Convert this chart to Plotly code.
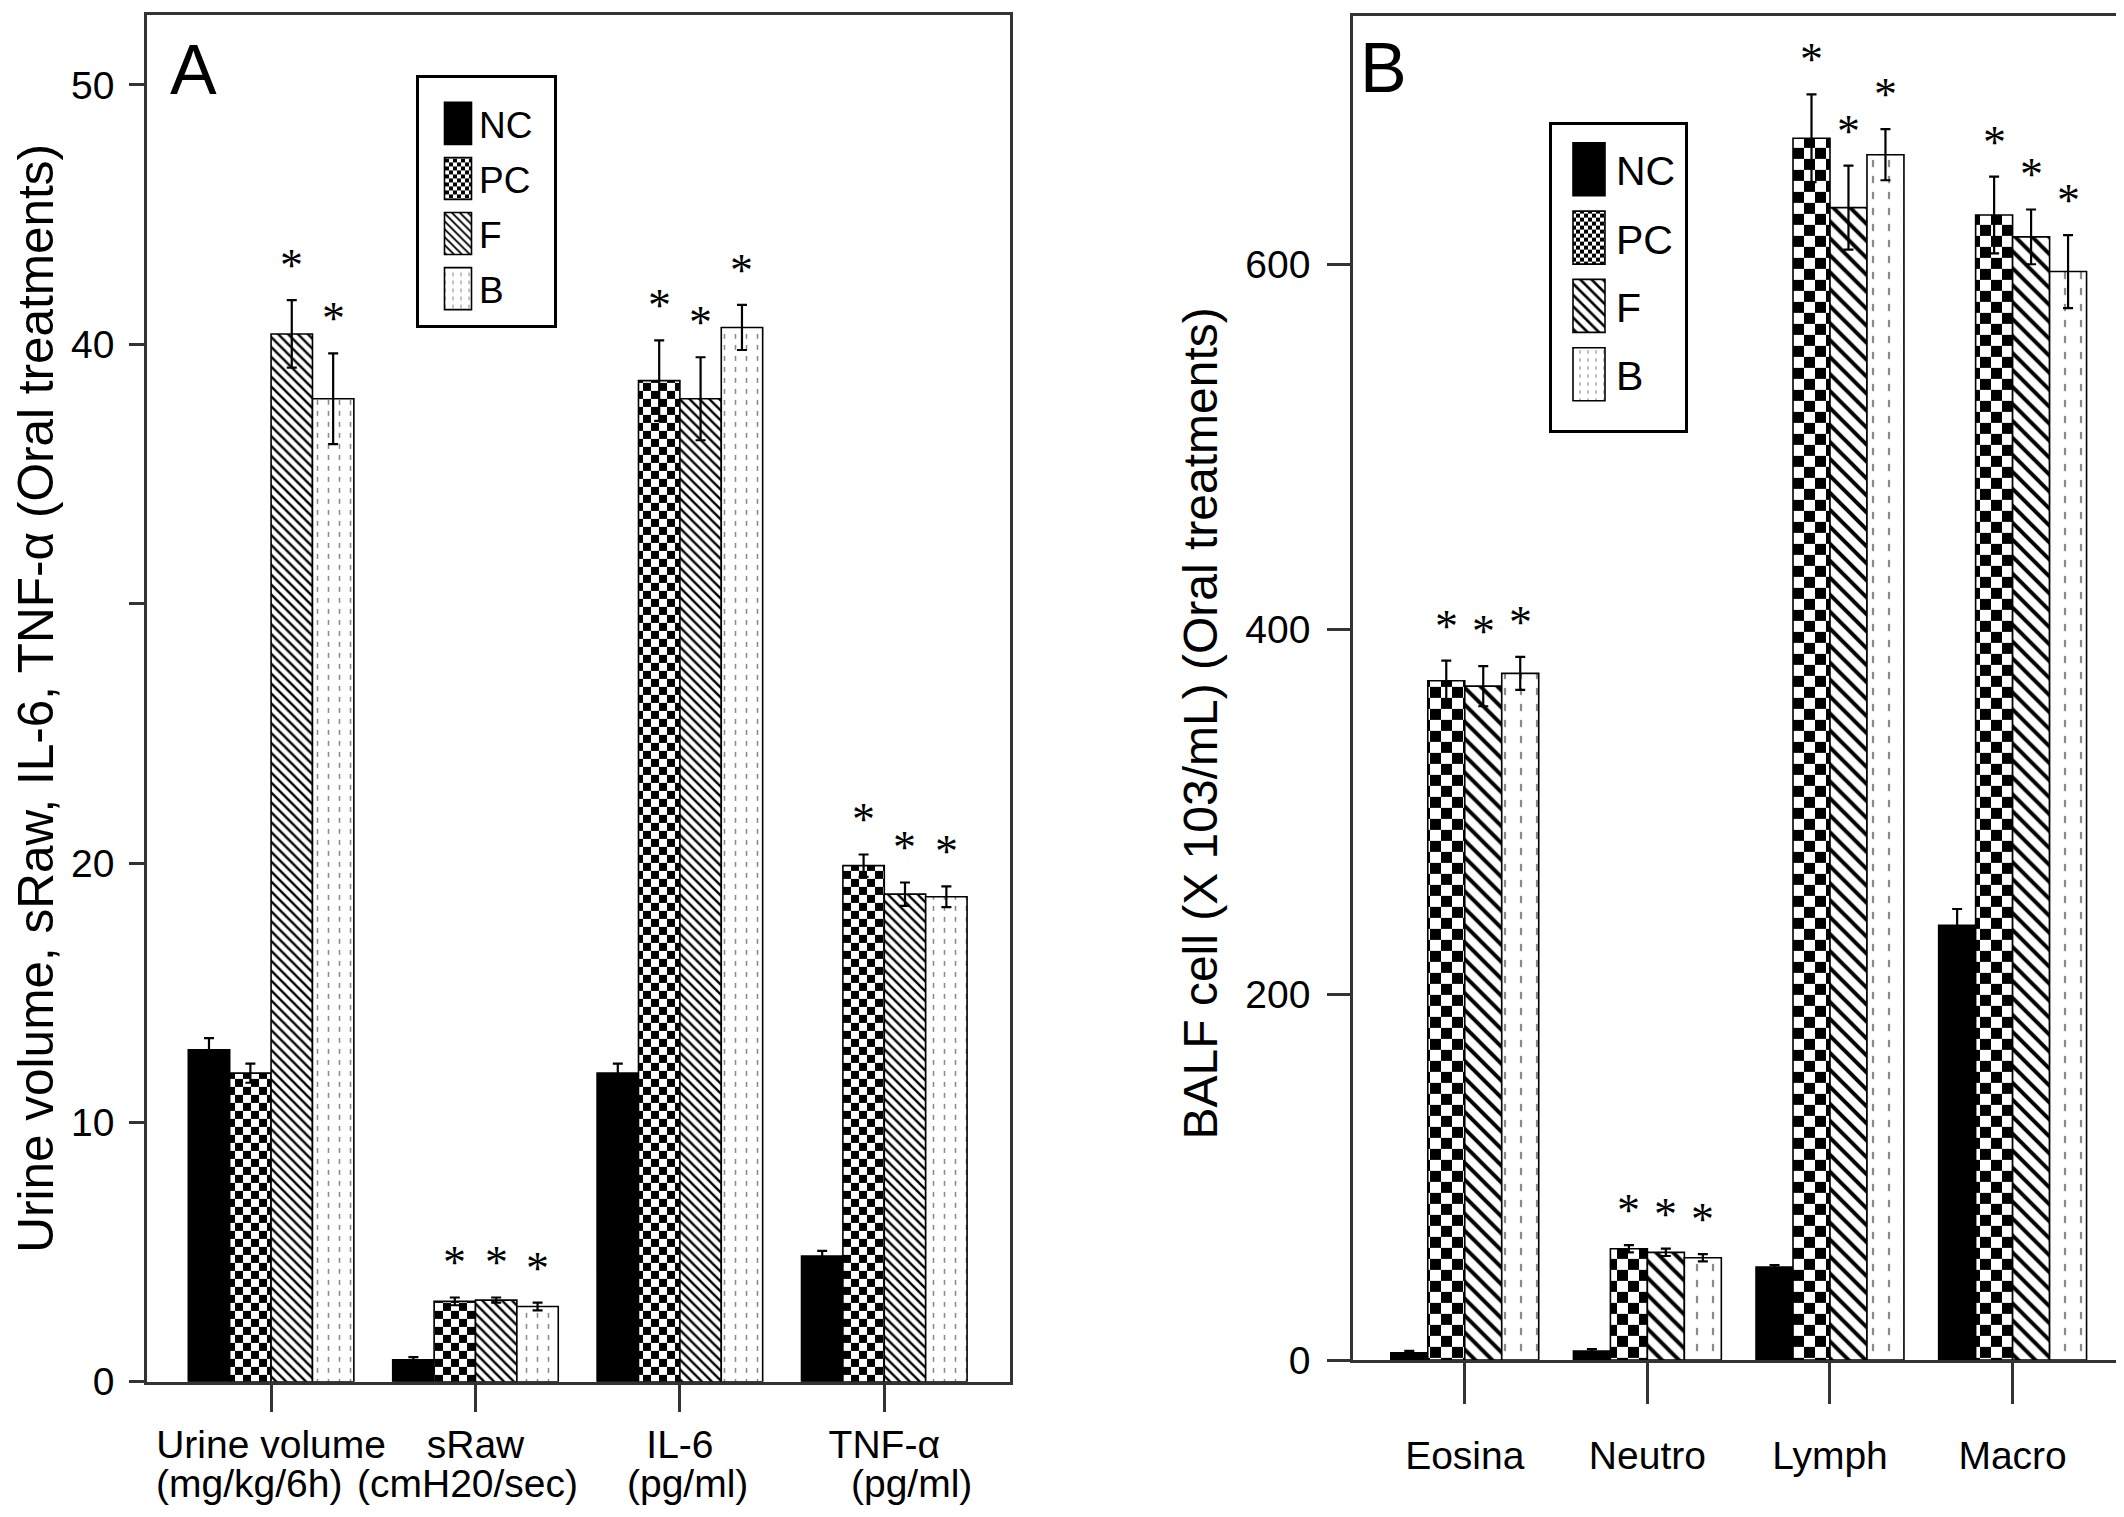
import plotly.graph_objects as go

# ---------------- data ----------------
groups = ["NC", "PC", "F", "B"]

# Panel A
a_cats = ["Urine volume", "sRaw", "IL-6", "TNF-α"]
a_units = ["(mg/kg/6h)", "(cmH20/sec)", "(pg/ml)", "(pg/ml)"]
a_nc = [12.8, 0.85, 11.9, 4.85]
a_pc = [11.9, 3.1, 38.6, 19.9]
a_f = [40.4, 3.15, 37.9, 18.8]
a_b = [37.9, 2.9, 40.65, 18.7]
a_nc_err = [0.45, 0.1, 0.37, 0.2]
a_pc_err = [0.37, 0.15, 1.55, 0.43]
a_f_err = [1.3, 0.1, 1.6, 0.45]
a_b_err = [1.75, 0.15, 0.87, 0.4]
a_nc_sig = [0, 0, 0, 0]
a_pc_sig = [0, 1, 1, 1]
a_f_sig = [1, 1, 1, 1]
a_b_sig = [1, 1, 1, 1]
a_tickvals = [0, 10, 20, 30, 40, 50]
a_ticktext = ["0", "10", "20", "", "40", "50"]
a_ytitle = "Urine volume, sRaw, IL-6, TNF-α (Oral treatments)"

# Panel B
b_cats = ["Eosina", "Neutro", "Lymph", "Macro"]
b_nc = [4, 5, 51, 238]
b_pc = [372, 61, 669, 627]
b_f = [369, 59, 631, 615]
b_b = [376, 56, 660, 596]
b_nc_err = [1, 1, 1, 9]
b_pc_err = [11, 2, 24, 21]
b_f_err = [11, 2, 23, 15]
b_b_err = [9, 2, 14, 20]
b_nc_sig = [0, 0, 0, 0]
b_pc_sig = [1, 1, 1, 1]
b_f_sig = [1, 1, 1, 1]
b_b_sig = [1, 1, 1, 1]
b_tickvals = [0, 200, 400, 600]
b_ticktext = ["0", "200", "400", "600"]
b_ytitle = "BALF cell (X 103/mL) (Oral treatments)"

# ---------------- styling ----------------
FONT = "Liberation Sans, Arial, sans-serif"
SERIF = "Liberation Serif, Times New Roman, serif"
W, H = 2124, 1517
BARGAP = 0.19
AXC = "#333333"
UNIT_XSHIFT = [-22, -8, 8, 27]   # horizontal nudges of the unit lines (px)

fig = go.Figure()


def pattern_for(g, panel):
    big = panel == "B"
    if g == "NC":
        return None
    if g == "PC":
        return dict(shape="+", fgcolor="black", bgcolor="white", size=22 if big else 16,
                    solidity=0.5, fillmode="replace")
    if g == "F":
        return dict(shape="\\", fgcolor="black", bgcolor="white", size=12 if big else 7,
                    solidity=0.33, fillmode="replace")
    return dict(shape="|", fgcolor="#8a8a8a", bgcolor="white", size=16 if big else 11,
                solidity=0.14, fillmode="replace")


uids = {"NC": "solid", "PC": "chk", "F": "diag", "B": "dot"}

panels = [
    ("A", "x", "y", "legend", [a_nc, a_pc, a_f, a_b],
     [a_nc_err, a_pc_err, a_f_err, a_b_err], [a_nc_sig, a_pc_sig, a_f_sig, a_b_sig]),
    ("B", "x2", "y2", "legend2", [b_nc, b_pc, b_f, b_b],
     [b_nc_err, b_pc_err, b_f_err, b_b_err], [b_nc_sig, b_pc_sig, b_f_sig, b_b_sig]),
]

annotations = []
bw = (1 - BARGAP) / len(groups)

for panel, xr, yr, leg, vals, errs, sigs in panels:
    xs = list(range(len(vals[0])))
    for k, g in enumerate(groups):
        pat = pattern_for(g, panel)
        marker = dict(color="black" if g == "NC" else "white",
                      line=dict(color="black", width=1.6))
        if pat:
            marker["pattern"] = pat
        fig.add_trace(go.Bar(
            x=xs, y=vals[k], name=g, xaxis=xr, yaxis=yr, legend=leg,
            legendgroup=panel + g, uid=uids[g] + panel,
            marker=marker,
            error_y=dict(type="data", array=errs[k], visible=True, color="black",
                         thickness=2.2, width=5),
        ))
        off = (k - (len(groups) - 1) / 2) * bw
        for i, s in enumerate(sigs[k]):
            if s:
                annotations.append(dict(
                    x=i + off, y=vals[k][i] + errs[k][i], xref=xr, yref=yr,
                    text="*", showarrow=False, yanchor="bottom", xanchor="center",
                    yshift=7, font=dict(family=SERIF, size=46, color="black")))

# second line of panel A category labels
for i, u in enumerate(a_units):
    annotations.append(dict(x=i, y=(H - 1497) / H, xref="x", yref="paper", text=u,
                            showarrow=False, xanchor="center", yanchor="middle",
                            xshift=UNIT_XSHIFT[i],
                            font=dict(family=FONT, size=39, color="black")))

# panel letters
annotations.append(dict(x=185 / W, y=1 - 63 / H, xref="paper", yref="paper", text="A",
                        showarrow=False, xanchor="center", yanchor="middle",
                        font=dict(family=FONT, size=70, color="black")))
annotations.append(dict(x=1375 / W, y=1 - 61 / H, xref="paper", yref="paper", text="B",
                        showarrow=False, xanchor="center", yanchor="middle",
                        font=dict(family=FONT, size=70, color="black")))

# panel B y-axis title
annotations.append(dict(x=1192 / W, y=1 - 726 / H, xref="paper", yref="paper",
                        text=b_ytitle, textangle=-90, showarrow=False,
                        xanchor="center", yanchor="middle",
                        font=dict(family=FONT, size=48, color="black")))

common_axis = dict(showline=True, linecolor=AXC, linewidth=2.5, mirror=True,
                   ticks="outside", tickcolor=AXC, tickwidth=2.5, showgrid=False,
                   zeroline=False, tickfont=dict(family=FONT, size=39, color="black"))

fig.update_layout(
    width=W, height=H, autosize=False,
    margin=dict(l=0, r=0, t=0, b=0),
    paper_bgcolor="white", plot_bgcolor="white",
    barmode="group", bargap=BARGAP, bargroupgap=0,
    font=dict(family=FONT, color="black"),
    xaxis=dict(domain=[139 / W, 1002 / W], range=[-0.607, 3.615], anchor="y",
               tickvals=list(range(4)), ticktext=a_cats, ticklen=27,
               ticklabelstandoff=0, **common_axis),
    yaxis=dict(domain=[(H - 1394) / H, 1 - 7 / H], range=[0, 52.7], anchor="x",
               tickvals=a_tickvals, ticktext=a_ticktext, ticklen=15,
               ticklabelstandoff=7,
               title=dict(text=a_ytitle, font=dict(family=FONT, size=49.5, color="black"),
                          standoff=8), **common_axis),
    xaxis2=dict(domain=[1345 / W, 2116 / W], range=[-0.612, 3.61], anchor="y2",
                tickvals=list(range(4)), ticktext=b_cats, ticklen=41,
                ticklabelstandoff=18, **common_axis),
    yaxis2=dict(domain=[(H - 1372) / H, 1 - 8 / H], range=[0, 736], anchor="x2",
                tickvals=b_tickvals, ticktext=b_ticktext, ticklen=23,
                ticklabelstandoff=9, **common_axis),
    legend=dict(x=408 / W, y=1 - 83 / H, xanchor="left", yanchor="top",
                bgcolor="white", bordercolor="black", borderwidth=3,
                font=dict(family=FONT, size=37, color="black"),
                tracegroupgap=4, itemwidth=50),
    legend2=dict(x=1541 / W, y=1 - 127 / H, xanchor="left", yanchor="top",
                 bgcolor="white", bordercolor="black", borderwidth=3,
                 font=dict(family=FONT, size=41, color="black"),
                 tracegroupgap=12, itemwidth=54),
    annotations=annotations,
    showlegend=True,
)

post_script = """
var gd = document.getElementById('{plot_id}');
function fixPatterns(){
  gd.querySelectorAll('pattern').forEach(function(p){
    var id = p.id || '';
    var w = parseFloat(p.getAttribute('width'));
    var path = p.querySelector('path');
    if(!path || isNaN(w)) return;
    if(id.indexOf('chk') >= 0){
      var h = w/2;
      path.setAttribute('d','M0,0H'+h+'V'+h+'H0Z M'+h+','+h+'H'+w+'V'+w+'H'+h+'Z');
      path.setAttribute('stroke','none'); path.style.stroke='none';
      path.setAttribute('fill','#000'); path.style.fill='#000';
      path.removeAttribute('stroke-width');
    } else if(id.indexOf('dot') >= 0){
      path.setAttribute('stroke-dasharray', (w*0.45)+','+(w*0.55));
    }
  });
}
var legendCfg = {
  'legend':  {hw: 13.5, hh: 21, dx: 9, grow: [0, 16, 15, 5]},
  'legend2': {hw: 16, hh: 26.5, dx: 5, grow: [0, 4, 11, 22]}
};
function fixLegend(){
  Object.keys(legendCfg).forEach(function(cls){
    var cfg = legendCfg[cls];
    var lg = gd.querySelector('g.' + cls);
    if(!lg) return;
    lg.querySelectorAll('g.legendpoints path').forEach(function(el){
      if(el.getAttribute('data-fixed')) return;
      var hw = cfg.hw, hh = cfg.hh, dx = cfg.dx;
      el.setAttribute('d','M'+(dx+hw)+','+hh+'H'+(dx-hw)+'V'+(-hh)+'H'+(dx+hw)+'Z');
      el.setAttribute('data-fixed','1');
    });
    var bg = lg.querySelector('rect.bg');
    if(bg && !bg.getAttribute('data-fixed')){
      var x = parseFloat(bg.getAttribute('x')) || 0, y = parseFloat(bg.getAttribute('y')) || 0;
      var w = parseFloat(bg.getAttribute('width')), h = parseFloat(bg.getAttribute('height'));
      var g = cfg.grow;
      bg.setAttribute('x', x - g[0]); bg.setAttribute('width', w + g[0] + g[1]);
      bg.setAttribute('y', y - g[2]); bg.setAttribute('height', h + g[2] + g[3]);
      bg.setAttribute('data-fixed','1');
    }
  });
}
function fixAll(){ fixPatterns(); fixLegend(); }
fixAll();
setTimeout(fixAll, 200);
setTimeout(fixAll, 800);
"""

fig.write_html("out.html", post_script=post_script)
